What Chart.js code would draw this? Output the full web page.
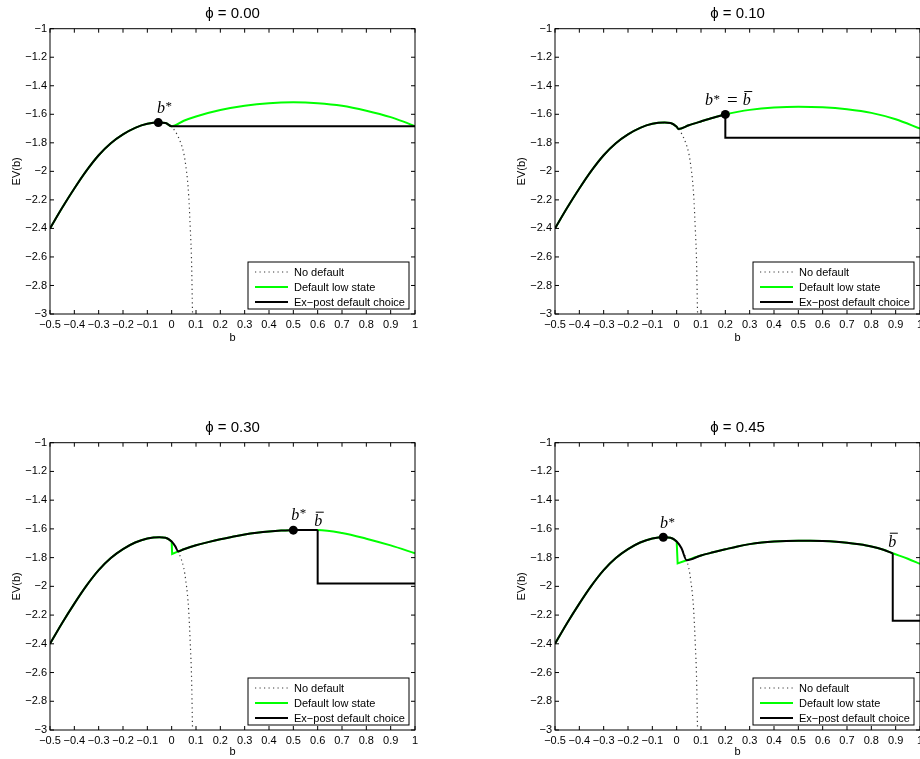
<!DOCTYPE html>
<html>
<head>
<meta charset="utf-8">
<script src="https://cdn.jsdelivr.net/npm/chart.js@4.4.1/dist/chart.umd.min.js"></script>
<style>
  html, body { margin:0; padding:0; background:#fff; width:920px; height:759px; overflow:hidden; }
  .panel { position:absolute; width:460px; height:345px; }
</style>
</head>
<body>
<div class="panel" style="left:0;top:0"><canvas id="c0" width="460" height="345"></canvas></div>
<div class="panel" style="left:505px;top:0"><canvas id="c1" width="460" height="345"></canvas></div>
<div class="panel" style="left:0;top:414px"><canvas id="c2" width="460" height="345"></canvas></div>
<div class="panel" style="left:505px;top:414px"><canvas id="c3" width="460" height="345"></canvas></div>
<script>
// axes
const xTickValues = [-0.5,-0.4,-0.3,-0.2,-0.1,0,0.1,0.2,0.3,0.4,0.5,0.6,0.7,0.8,0.9,1];
const xTickLabels = ['−0.5','−0.4','−0.3','−0.2','−0.1','0','0.1','0.2','0.3','0.4','0.5','0.6','0.7','0.8','0.9','1'];
const yTickValues = [-3,-2.8,-2.6,-2.4,-2.2,-2,-1.8,-1.6,-1.4,-1.2,-1];
const yTickLabels = ['−3','−2.8','−2.6','−2.4','−2.2','−2','−1.8','−1.6','−1.4','−1.2','−1'];
const phiTitles = ['ϕ = 0.00','ϕ = 0.10','ϕ = 0.30','ϕ = 0.45'];
const legendLabels = ['No default','Default low state','Ex−post default choice'];

// b < 0 branch, identical in every panel
const bLeft  = [-0.5,-0.45,-0.4,-0.35,-0.3,-0.25,-0.2,-0.15,-0.1,-0.05,-0.025];
const evLeft = [-2.40,-2.255,-2.12,-1.995,-1.887,-1.803,-1.741,-1.695,-1.667,-1.658,-1.661];

// no default, past b = 0
const bNoDef  = [0,0.02,0.037,0.05,0.058,0.065,0.07,0.0765,0.082,0.0855,0.088];
const evNoDef = [-1.688,-1.735,-1.80,-1.875,-1.96,-2.06,-2.17,-2.40,-2.65,-2.97,-3.1];

// phi = 0.00
const p1BlackB = [0, 1];
const p1BlackV = [-1.684, -1.684];
const p1GreenB = [0,0.05,0.1,0.2,0.3,0.4,0.5,0.6,0.7,0.8,0.9,0.95,1];
const p1GreenV = [-1.684,-1.645,-1.615,-1.57,-1.54,-1.522,-1.516,-1.522,-1.54,-1.575,-1.62,-1.65,-1.684];

// phi = 0.10
const p2BlackB = [0,0.007,0.05,0.1,0.15,0.2];
const p2BlackV = [-1.688,-1.703,-1.677,-1.650,-1.624,-1.601];
const p2StepB  = [0.2,0.2,1];
const p2StepV  = [-1.601,-1.765,-1.765];
const p2GreenB = [0,0.007,0.05,0.1,0.15,0.2,0.25,0.3,0.4,0.5,0.6,0.7,0.8,0.9,1];
const p2GreenV = [-1.688,-1.703,-1.677,-1.650,-1.624,-1.601,-1.583,-1.569,-1.553,-1.547,-1.551,-1.565,-1.59,-1.635,-1.70];

// phi = 0.30
const p3BlackB = [0,0.015,0.027,0.05,0.1,0.15,0.2,0.25,0.3,0.35,0.4,0.45,0.5,0.55,0.6];
const p3BlackV = [-1.688,-1.722,-1.757,-1.742,-1.714,-1.692,-1.672,-1.655,-1.639,-1.627,-1.618,-1.612,-1.609,-1.607,-1.607];
const p3StepB  = [0.6,0.6,1];
const p3StepV  = [-1.607,-1.98,-1.98];
const p3DropB  = [0,0.002,0.027];
const p3DropV  = [-1.688,-1.775,-1.757];
const p3GreenB = [0.027,0.05,0.1,0.15,0.2,0.25,0.3,0.35,0.4,0.45,0.5,0.55,0.6,0.7,0.8,0.9,1];
const p3GreenV = [-1.757,-1.742,-1.714,-1.692,-1.672,-1.655,-1.639,-1.627,-1.618,-1.612,-1.609,-1.607,-1.607,-1.628,-1.668,-1.715,-1.77];

// phi = 0.45
const p4BlackB = [0,0.02,0.041,0.1,0.15,0.2,0.25,0.3,0.35,0.4,0.45,0.5,0.55,0.6,0.7,0.75,0.8,0.85,0.888];
const p4BlackV = [-1.688,-1.735,-1.818,-1.785,-1.763,-1.742,-1.722,-1.706,-1.695,-1.688,-1.684,-1.683,-1.683,-1.685,-1.696,-1.707,-1.722,-1.745,-1.77];
const p4StepB  = [0.888,0.888,1];
const p4StepV  = [-1.77,-2.24,-2.24];
const p4DropB  = [0,0.004,0.041];
const p4DropV  = [-1.688,-1.84,-1.818];
const p4GreenB = [0.041,0.1,0.15,0.2,0.25,0.3,0.35,0.4,0.45,0.5,0.55,0.6,0.7,0.75,0.8,0.85,0.888,0.95,1];
const p4GreenV = [-1.818,-1.785,-1.763,-1.742,-1.722,-1.706,-1.695,-1.688,-1.684,-1.683,-1.683,-1.685,-1.696,-1.707,-1.722,-1.745,-1.77,-1.808,-1.844];

// b* (dot) and b-bar per panel
const starB = [-0.055, 0.2, 0.5, -0.055];
const starV = [-1.658, -1.601, -1.609, -1.658];
const barB  = [null, 0.2, 0.6, 0.888];
const barV  = [null, -1.601, -1.607, -1.77];

const SANS = '"Liberation Sans", Arial, Helvetica, sans-serif';
const SERIF = '"Liberation Serif", "DejaVu Serif", serif';
const GREEN = '#00ff00';
const NODEF = {c:'#3a3a3a', w:1.2, d:[1.2,3.3]};

Chart.defaults.font.family = SANS;
Chart.defaults.color = '#000';

const panels = [
  {id:'c0', k:0, bottom:314,
   black:[[bLeft.concat(p1BlackB), evLeft.concat(p1BlackV), true]],
   green:[[bLeft.concat(p1GreenB), evLeft.concat(p1GreenV), true]],
   marks:[{at:'star', tok:['bstar'], dx:-1.3, dy:-9.6}]},
  {id:'c1', k:1, bottom:314,
   black:[[bLeft.concat(p2BlackB), evLeft.concat(p2BlackV), true], [p2StepB, p2StepV, false]],
   green:[[bLeft.concat(p2GreenB), evLeft.concat(p2GreenV), true]],
   marks:[{at:'star', tok:['bstar','eq','bbar'], dx:-20.3, dy:-9.4}]},
  {id:'c2', k:2, bottom:316,
   black:[[bLeft.concat(p3BlackB), evLeft.concat(p3BlackV), true], [p3StepB, p3StepV, false]],
   green:[[bLeft.concat(bNoDef[0]), evLeft.concat(evNoDef[0]), true], [p3DropB, p3DropV, false], [p3GreenB, p3GreenV, true]],
   marks:[{at:'star', tok:['bstar'], dx:-2, dy:-10.2}, {at:'bar', tok:['bbar'], dx:-3.4, dy:-4.2}]},
  {id:'c3', k:3, bottom:316,
   black:[[bLeft.concat(p4BlackB), evLeft.concat(p4BlackV), true], [p4StepB, p4StepV, false]],
   green:[[bLeft.concat(bNoDef[0]), evLeft.concat(evNoDef[0]), true], [p4DropB, p4DropV, false], [p4GreenB, p4GreenV, true]],
   marks:[{at:'star', tok:['bstar'], dx:-3.3, dy:-8.9}, {at:'bar', tok:['bbar'], dx:-4.4, dy:-6.6}]}
];

function line(seg, color, width, dash, order){
  const [bs, vs, smooth] = seg;
  return {
    data: bs.map((b,i)=>({x:b, y:vs[i]})),
    borderColor: color, borderWidth: width, borderDash: dash,
    pointRadius: 0, fill: false, order: order,
    tension: smooth ? 0.4 : 0,
    cubicInterpolationMode: smooth ? 'monotone' : 'default',
    borderJoinStyle: 'miter'
  };
}

// italic b, optional star / overline, and "=" laid out left to right
function drawMath(ctx, x, base, tokens){
  ctx.fillStyle = '#000'; ctx.strokeStyle = '#000';
  ctx.textAlign = 'left'; ctx.textBaseline = 'alphabetic';
  tokens.forEach(t=>{
    if(t === 'eq'){
      x += 7;
      ctx.font = '19px ' + SERIF;
      ctx.fillText('=', x, base + 1);
      x += ctx.measureText('=').width + 5;
      return;
    }
    ctx.font = 'italic 16px ' + SERIF;
    ctx.fillText('b', x, base);
    const w = ctx.measureText('b').width;
    if(t === 'bbar'){
      ctx.lineWidth = 1;
      ctx.beginPath(); ctx.moveTo(x + 1.5, base - 13.5); ctx.lineTo(x + w + 1.5, base - 13.5); ctx.stroke();
      x += w;
    } else {
      ctx.font = '13px ' + SERIF;
      ctx.fillText('*', x + w + 0.5, base - 2.5);
      x += w + 0.5 + ctx.measureText('*').width;
    }
  });
}

function makePanel(p){
  const ds = [];
  ds.push({data:[{x:starB[p.k], y:starV[p.k]}], showLine:false, pointRadius:4.5,
           pointBackgroundColor:'#000', pointBorderWidth:0, order:0});
  p.black.forEach(s => ds.push(line(s, '#000', 2, [], 1)));
  p.green.forEach(s => ds.push(line(s, GREEN, 2, [], 2)));
  ds.push(line([bLeft.concat(bNoDef), evLeft.concat(evNoDef), true], NODEF.c, NODEF.w, NODEF.d, 3));

  const frame = {
    id: 'frame',
    afterDraw(chart){
      const {ctx, chartArea:a, scales:{x, y}} = chart;
      ctx.save();
      // box + inward ticks on all four sides
      ctx.strokeStyle = '#000'; ctx.lineWidth = 1; ctx.setLineDash([]);
      ctx.strokeRect(a.left, a.top, a.right - a.left, a.bottom - a.top);
      ctx.beginPath();
      x.ticks.forEach(t=>{
        const px = x.getPixelForValue(t.value);
        ctx.moveTo(px, a.bottom); ctx.lineTo(px, a.bottom - 4);
        ctx.moveTo(px, a.top); ctx.lineTo(px, a.top + 4);
      });
      y.ticks.forEach(t=>{
        const py = y.getPixelForValue(t.value);
        ctx.moveTo(a.left, py); ctx.lineTo(a.left + 4, py);
        ctx.moveTo(a.right, py); ctx.lineTo(a.right - 4, py);
      });
      ctx.stroke();

      // title
      ctx.fillStyle = '#000';
      ctx.font = '15px ' + SANS;
      ctx.textAlign = 'center'; ctx.textBaseline = 'middle';
      ctx.fillText(phiTitles[p.k], (a.left + a.right) / 2, 13.5);

      // legend
      const lw = 161, lh = 47;
      const lx = a.right - 6 - lw, ly = a.bottom - 5 - lh;
      ctx.fillStyle = '#fff'; ctx.fillRect(lx, ly, lw, lh);
      ctx.strokeStyle = '#000'; ctx.lineWidth = 1; ctx.strokeRect(lx, ly, lw, lh);
      const styles = [NODEF, {c:GREEN, w:2, d:[]}, {c:'#000', w:2, d:[]}];
      ctx.font = '11px ' + SANS; ctx.textAlign = 'left'; ctx.textBaseline = 'middle';
      styles.forEach((s, i)=>{
        const yy = ly + 10 + 15 * i;
        ctx.strokeStyle = s.c; ctx.lineWidth = s.w; ctx.setLineDash(s.d);
        ctx.beginPath(); ctx.moveTo(lx + 7, yy); ctx.lineTo(lx + 40, yy); ctx.stroke();
        ctx.setLineDash([]);
        ctx.fillStyle = '#000';
        ctx.fillText(legendLabels[i], lx + 46, yy + 0.5);
      });

      // b* / b-bar annotations
      p.marks.forEach(m=>{
        const bb = m.at === 'star' ? starB[p.k] : barB[p.k];
        const vv = m.at === 'star' ? starV[p.k] : barV[p.k];
        drawMath(ctx, x.getPixelForValue(bb) + m.dx, y.getPixelForValue(vv) + m.dy, m.tok);
      });
      ctx.restore();
    }
  };

  new Chart(document.getElementById(p.id), {
    type: 'line',
    data: {datasets: ds},
    options: {
      responsive: false, animation: false, events: [],
      layout: {padding: {left:0, top:28.7, right:45, bottom:0}},
      plugins: {legend:{display:false}, tooltip:{enabled:false}, title:{display:false}},
      scales: {
        x: {
          type:'linear', min:-0.5, max:1,
          afterBuildTicks: s => { s.ticks = xTickValues.map(v=>({value:v})); },
          afterFit: s => { s.height = 345 - p.bottom; s.paddingLeft = 0; s.paddingRight = 0; },
          grid: {display:false, drawTicks:false}, border: {display:false},
          ticks: {autoSkip:false, maxRotation:0, minRotation:0, padding:4, color:'#000',
                  font:{size:11}, callback:(v, i) => xTickLabels[i]},
          title: {display:true, text:'b', color:'#000', font:{size:11}, padding:{top:0, bottom:0}}
        },
        y: {
          type:'linear', min:-3, max:-1,
          afterBuildTicks: s => { s.ticks = yTickValues.map(v=>({value:v})); },
          afterFit: s => { s.width = 50; s.paddingTop = 0; s.paddingBottom = 0; },
          grid: {display:false, drawTicks:false}, border: {display:false},
          ticks: {padding:3, color:'#000', font:{size:11}, callback:(v, i) => yTickLabels[i]},
          title: {display:true, text:'EV(b)', color:'#000', font:{size:11}, padding:{top:10, bottom:0}}
        }
      }
    },
    plugins: [frame]
  });
}

panels.forEach(makePanel);
</script>
</body>
</html>
